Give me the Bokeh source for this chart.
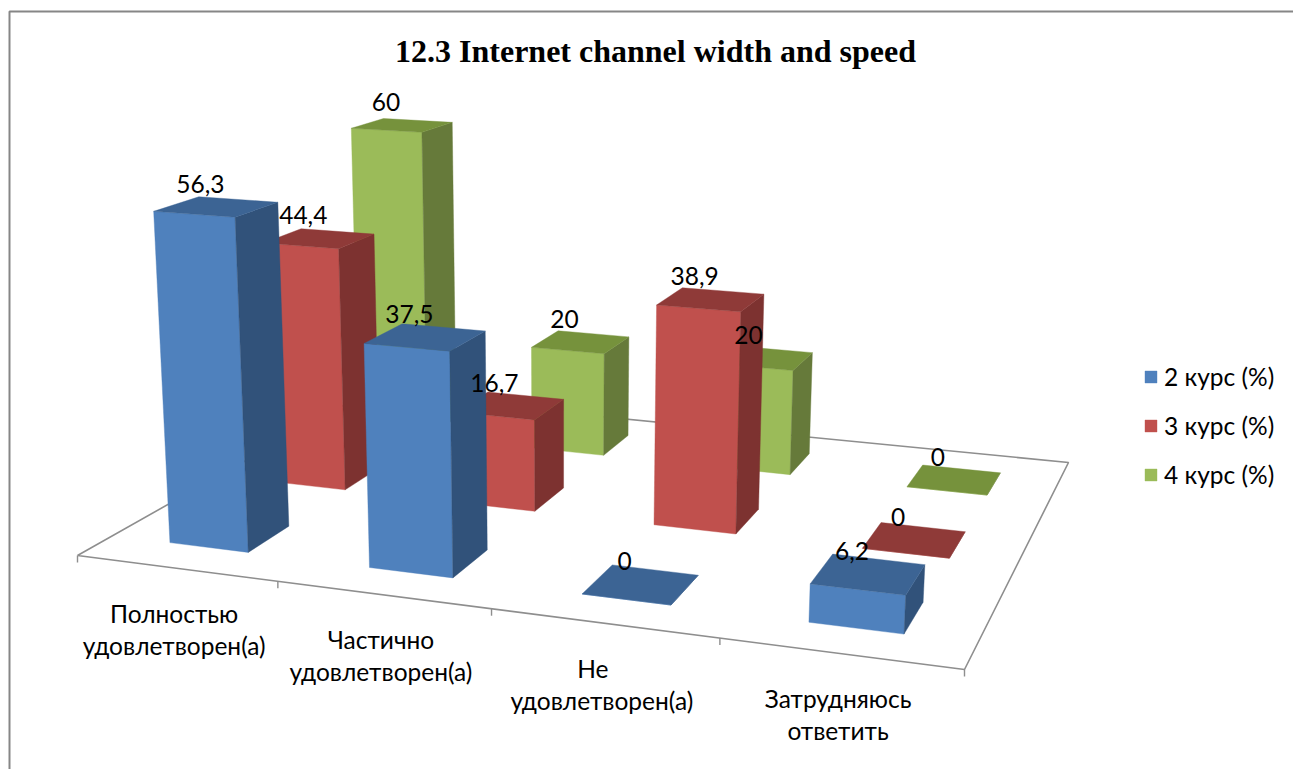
import numpy as np
from bokeh.plotting import figure
from bokeh.embed import file_html
from bokeh.resources import INLINE
from bokeh.core.properties import value
from bokeh.models import ColumnDataSource, Legend, LegendItem

# ---- data ----
title_text = "12.3 Internet channel width and speed"
categories = [["Полностью", "удовлетворен(а)"], ["Частично", "удовлетворен(а)"],
              ["Не", "удовлетворен(а)"], ["Затрудняюсь", "ответить"]]
series_names = ["2 курс (%)", "3 курс (%)", "4 курс (%)"]
course2 = [56.3, 37.5, 0, 6.2]
course3 = [44.4, 16.7, 38.9, 0]
course4 = [60, 20, 20, 0]
value_labels = [["56,3", "37,5", "0", "6,2"], ["44,4", "16,7", "38,9", "0"], ["60", "20", "20", "0"]]
front_colors = ["#4F81BD", "#C0504D", "#9BBB59"]
side_colors = ["#31527A", "#7D3230", "#667A3A"]
top_colors = ["#3C6494", "#8F3A38", "#76923C"]

W, H_PX = 1293, 769
LABEL_FONT = "Lato"
LABEL_SIZE = "24.5px"

# ---- camera: floor plane (category, series) -> page pixels, heights along a vanishing point ----
src = np.array([[0, 0], [4, 0], [4, 3], [0, 3]], float)
dst = np.array([[77, 555], [964, 669], [1068, 462], [364, 393]], float)
A, b = [], []
for (u, v), (x, y) in zip(src, dst):
    A.append([u, v, 1, 0, 0, 0, -u * x, -v * x]); b.append(x)
    A.append([0, 0, 0, u, v, 1, -u * y, -v * y]); b.append(y)
h_ = np.linalg.solve(np.array(A), np.array(b))
HM = np.array([[h_[0], h_[1], h_[2]], [h_[3], h_[4], h_[5]], [h_[6], h_[7], 1]])
UP = np.array([-0.404902, -6.145026, -0.000723])


def project(u, v, h=0.0):
    r = HM @ np.array([u, v, 1.0]) + h * UP
    return r[0] / r[2], r[1] / r[2]


def quad(points):
    xy = [project(*pt) for pt in points]
    return [q[0] for q in xy], [q[1] for q in xy]


p = figure(width=W, height=H_PX, x_range=(0, W), y_range=(H_PX, 0), toolbar_location=None,
           output_backend="svg", min_border=0, outline_line_alpha=0)
p.axis.visible = False
p.grid.visible = False

# chart frame
p.line([9, 9, W], [H_PX, 11, 11], line_color="#868686", line_width=2)

# floor outline and ticks
fx, fy = quad([(0, 0), (4, 0), (4, 3), (0, 3), (0, 0)])
p.line(fx, fy, line_color="#8E8E8E", line_width=1.6)
tick_x, tick_y = zip(*[project(i, 0) for i in range(5)])
p.segment(tick_x, tick_y, tick_x, [t + 7 for t in tick_y], line_color="#8E8E8E", line_width=1.4)

# bars: back series first
all_series = [course2, course3, course4]
renderers = {}
for j in [2, 1, 0]:
    xs, ys, cols = [], [], []
    for i, val in enumerate(all_series[j]):
        u0, u1, v0, v1 = i + .2975, i + .6975, j + .2975, j + .695
        faces = [([(u0, v0, 0), (u1, v0, 0), (u1, v0, val), (u0, v0, val)], front_colors[j]),
                 ([(u1, v0, 0), (u1, v1, 0), (u1, v1, val), (u1, v0, val)], side_colors[j]),
                 ([(u0, v0, val), (u1, v0, val), (u1, v1, val), (u0, v1, val)], top_colors[j])]
        for pts, c in faces:
            qx, qy = quad(pts)
            xs.append(qx); ys.append(qy); cols.append(c)
    src_j = ColumnDataSource(dict(xs=xs, ys=ys, color=cols))
    renderers[j] = p.patches("xs", "ys", source=src_j, fill_color="color", line_color="color", line_width=0.4)

# value labels
lx, ly, lt = [], [], []
for j, vals in enumerate(all_series):
    for i, val in enumerate(vals):
        x, y = project(i + .5, j + .5, val)
        lx.append(x); ly.append(y); lt.append(value_labels[j][i])
p.text(lx, ly, text=lt, x_offset=-17, y_offset=-23, text_align="center", text_baseline="middle",
       text_font=value(LABEL_FONT), text_font_size=LABEL_SIZE, text_color="#000000")

# category labels
cat_dx = [[-2, -2], [-2, -2], [-11, -2], [-2, -2]]
cx, cy, ct = [], [], []
for i, lines in enumerate(categories):
    x, y = project(i + .5, 0)
    for k, line in enumerate(lines):
        cx.append(x + cat_dx[i][k]); cy.append(y + 45 + 32 * k); ct.append(line)
p.text(cx, cy, text=ct, text_align="center", text_baseline="middle",
       text_font=value(LABEL_FONT), text_font_size=LABEL_SIZE, text_color="#000000")

# title
p.text([655], [50], text=[title_text], text_align="center", text_baseline="middle",
       text_font=value("Liberation Serif"), text_font_style="bold", text_font_size="32px", text_color="#000000")

# legend
legend = Legend(items=[LegendItem(label=series_names[j], renderers=[renderers[j]], index=0) for j in range(3)],
                location=(1143, H_PX - 488.5), orientation="vertical", padding=0, margin=0, spacing=20,
                glyph_width=15, glyph_height=15, label_standoff=6, border_line_alpha=0, background_fill_alpha=0,
                label_text_font=LABEL_FONT, label_text_font_size=LABEL_SIZE, label_text_color="#000000")
p.add_layout(legend, "center")

open("out.html", "w").write(file_html(p, INLINE))
